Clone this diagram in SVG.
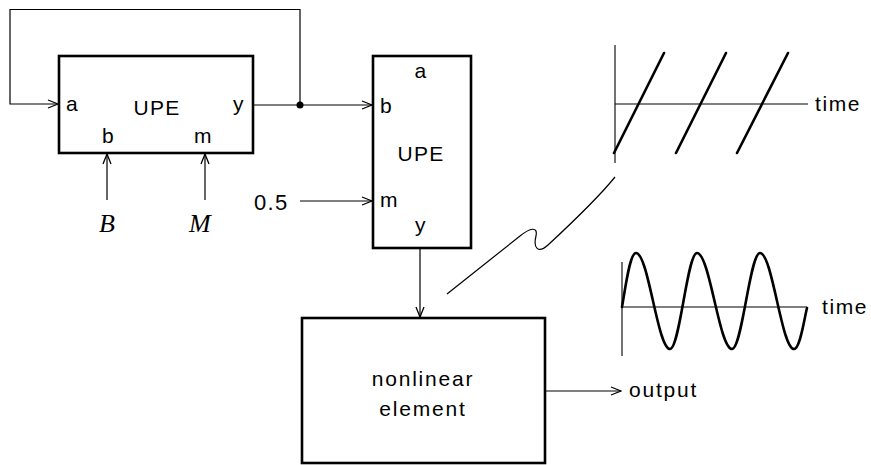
<svg xmlns="http://www.w3.org/2000/svg" width="871" height="465" viewBox="0 0 871 465">
<defs>
<marker id="arr" viewBox="0 0 12 10" refX="11" refY="5" markerWidth="12" markerHeight="10" markerUnits="userSpaceOnUse" orient="auto">
<path d="M1,1 L11,5 L1,9" fill="none" stroke="#000" stroke-width="1.3"/>
</marker>
<style>
.box{fill:#fff;stroke:#000;stroke-width:2.6}
.ln{fill:none;stroke:#000;stroke-width:1.2}
.t{font-family:"Liberation Sans",Arial,sans-serif;font-size:21px;fill:#000;letter-spacing:1.3px}
.it{font-family:"Liberation Serif","Times New Roman",serif;font-style:italic;font-size:26px;fill:#000}
.thick{fill:none;stroke:#000;stroke-width:2.6;stroke-linecap:round}
.ax{fill:none;stroke:#000;stroke-width:1.1}
</style>
</defs>
<rect width="871" height="465" fill="#fff"/>
<g id="connectors">
<path class="ln" d="M300,105 V9.5 H10 V104 H58" marker-end="url(#arr)"/>
<path class="ln" d="M253,105 H372" marker-end="url(#arr)"/>
<circle cx="300" cy="105" r="3.5" fill="#000"/>
<path class="ln" d="M107,200 V154" marker-end="url(#arr)"/>
<path class="ln" d="M205,200 V154" marker-end="url(#arr)"/>
<path class="ln" d="M300,201 H372" marker-end="url(#arr)"/>
<path class="ln" d="M420,248 V317" marker-end="url(#arr)"/>
<path class="ln" d="M545,391 H621" marker-end="url(#arr)"/>
</g>
<g id="upe1">
<rect class="box" x="59" y="56" width="194" height="97"/>
<text class="t" x="66" y="111">a</text>
<text class="t" x="157" y="115" text-anchor="middle">UPE</text>
<text class="t" x="233" y="111">y</text>
<text class="t" x="102" y="143">b</text>
<text class="t" x="194" y="143">m</text>
</g>
<g id="inputB"><text class="it" x="99" y="232">B</text></g>
<g id="inputM"><text class="it" x="189" y="232">M</text></g>
<g id="const05"><text class="t" x="254" y="210" style="font-size:22px">0.5</text></g>
<g id="upe2">
<rect class="box" x="373" y="56" width="98" height="192"/>
<text class="t" x="421" y="78" text-anchor="middle">a</text>
<text class="t" x="380" y="113">b</text>
<text class="t" x="421" y="161" text-anchor="middle">UPE</text>
<text class="t" x="380" y="207">m</text>
<text class="t" x="421" y="232" text-anchor="middle">y</text>
</g>
<g id="nonlinear">
<rect class="box" x="302" y="318" width="243" height="145"/>
<text class="t" x="423" y="386" text-anchor="middle" style="letter-spacing:1.8px">nonlinear</text>
<text class="t" x="423" y="416" text-anchor="middle" style="letter-spacing:1.8px">element</text>
</g>
<g id="output"><text class="t" x="629" y="397" style="letter-spacing:1.8px">output</text></g>
<g id="ramp">
<path class="ax" d="M615,45 V163 M615,104 H808"/>
<path class="thick" d="M614,153 L664,53 M676,153 L726,53 M737,153 L788,53"/>
<text class="t" x="815" y="111" style="letter-spacing:1.6px">time</text>
</g>
<g id="sine">
<path class="ax" d="M622,262 V356 M622,307 H807"/>
<path class="thick" d="M622,307 C626,284 630,253 636,253 C648.4,253 657.6,349 670,349 C679.8,349 687.2,253 697,253 C709.7,253 719.3,349 732,349 C742.2,349 749.8,253 760,253 C772.4,253 781.6,349 794,349 C800,349 804,320 807,308"/>
<text class="t" x="822" y="314" style="letter-spacing:1.6px">time</text>
</g>
<g id="link">
<path class="ln" d="M447,294 L520,236 C530,228 538,226 536,236 C533,248 538,254 548,245 C575,220 598,198 615,177"/>
</g>
</svg>
